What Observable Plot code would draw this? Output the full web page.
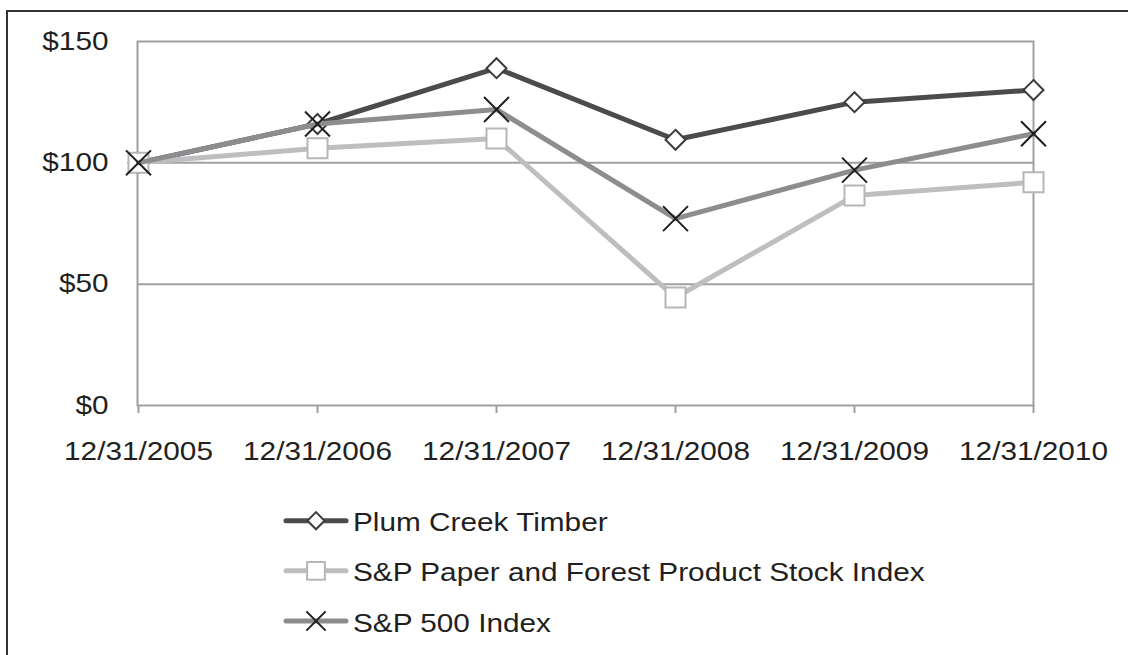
<!DOCTYPE html>
<html><head><meta charset="utf-8">
<script src="https://cdn.jsdelivr.net/npm/d3@7"></script>
<script src="https://cdn.jsdelivr.net/npm/@observablehq/plot@0.6"></script>
<style>
html,body{margin:0;padding:0;background:#fff;overflow:hidden;}
#wrap{position:relative;width:1128px;height:655px;overflow:hidden;font-family:"Liberation Sans",Arial,sans-serif;background:#fff;}
#border{position:absolute;left:6px;top:10px;width:2000px;height:2000px;border-left:2.5px solid #333;border-top:2.5px solid #333;pointer-events:none;}
#chart svg, #legend{display:block;}
</style></head><body>
<div id="wrap"><div id="chart"></div><svg id="legend" width="1128" height="185"></svg><div id="border"></div></div>
<script>
const dates = ["12/31/2005", "12/31/2006", "12/31/2007", "12/31/2008", "12/31/2009", "12/31/2010"];
const plumCreek = [100, 116, 139, 109.5, 125, 130];
const paperIndex = [100, 106, 110, 44.5, 86.5, 92];
const sp500 = [100, 116, 122, 77, 97, 112];
const seriesNames = ["Plum Creek Timber", "S&P Paper and Forest Product Stock Index", "S&P 500 Index"];
const yTicks = [0, 50, 100, 150];
const gridValues = [50, 100];

const series = [
  {name: seriesNames[0], values: plumCreek, stroke: "#4b4b4d", symbol: "diamond2", r: 9, lr: 7.7, fill: "white", mstroke: "#3c3c3e", msw: 2},
  {name: seriesNames[1], values: paperIndex, stroke: "#bdbec0", symbol: "square", r: 11.3, lr: 10, fill: "white", mstroke: "#b5b6b8", msw: 2},
  {name: seriesNames[2], values: sp500, stroke: "#8c8d8f", symbol: "times", r: 11.4, lr: 8.8, fill: "none", mstroke: "#1f1f1f", msw: 2}
];

const gray = "#a0a0a2";
const marks = [
  Plot.ruleY(gridValues, {stroke: gray, strokeWidth: 2}),
  Plot.frame({stroke: gray, strokeWidth: 2}),
  Plot.axisY({ticks: yTicks, tickFormat: d => "$" + d, tickSize: 0, tickPadding: 29, fill: "#231f20"}),
  Plot.axisX({tickSize: 8, tickPadding: 29, stroke: gray, strokeWidth: 2, fill: "#231f20"})
];
for (const s of series) {
  const rows = dates.map((d, i) => ({date: d, value: s.values[i]}));
  marks.push(Plot.line(rows, {x: "date", y: "value", stroke: s.stroke, strokeWidth: 5, strokeLinejoin: "round"}));
  marks.push(Plot.dot(rows, {x: "date", y: "value", symbol: s.symbol, r: s.r, fill: s.fill, stroke: s.mstroke, strokeWidth: s.msw}));
}

const chart = Plot.plot({
  width: 1128,
  height: 470,
  marginLeft: 137,
  marginRight: 95,
  marginTop: 41,
  marginBottom: 65,
  style: {fontFamily: '"Liberation Sans", Arial, sans-serif', fontSize: "25px", color: "#231f20", background: "transparent"},
  x: {type: "point", domain: dates, padding: 0, label: null},
  y: {domain: [0, 150], label: null},
  marks
});
document.getElementById("chart").appendChild(chart);

// Legend
const leg = d3.select("#legend");
const rowY = [50.7, 100.8, 151];
series.forEach((s, i) => {
  const g = leg.append("g").attr("transform", `translate(0,${rowY[i]})`);
  g.append("line").attr("x1", 286).attr("x2", 346).attr("y1", 0).attr("y2", 0)
    .attr("stroke", s.stroke).attr("stroke-width", 5).attr("stroke-linecap", "round");
  const symMap = {diamond2: d3.symbolDiamond2, square: d3.symbolSquare, times: d3.symbolTimes};
  g.append("path").attr("transform", "translate(316,0)")
    .attr("d", d3.symbol(symMap[s.symbol], Math.PI * s.lr * s.lr)())
    .attr("fill", s.fill).attr("stroke", s.mstroke).attr("stroke-width", s.msw);
  g.append("text").attr("x", 353).attr("y", 10.5).attr("fill", "#231f20")
    .attr("font-size", 25).attr("font-family", '"Liberation Sans", Arial, sans-serif').text(s.name);
});

// horizontal stretch of text as in the reference
const stretch = 1.19;
document.querySelectorAll("#chart svg text, #legend text").forEach(t => {
  const len = t.getComputedTextLength();
  if (len > 0) {
    t.setAttribute("textLength", (len * stretch).toFixed(1));
    t.setAttribute("lengthAdjust", "spacingAndGlyphs");
  }
});
</script>
</body></html>
